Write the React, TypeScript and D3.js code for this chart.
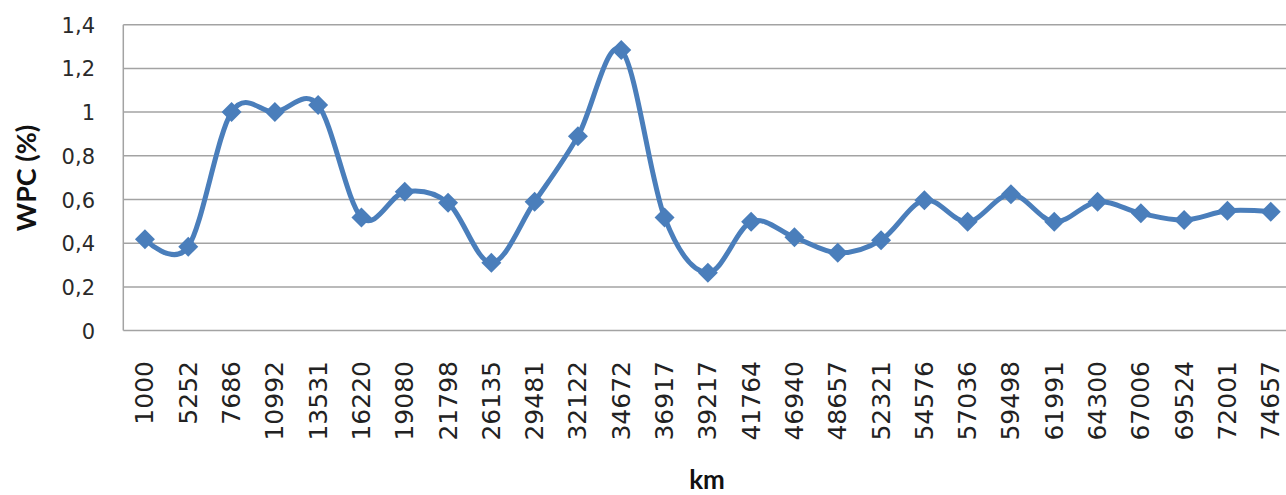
import React from "react";
import * as d3 from "d3";

const categories: string[] = [
  "1000", "5252", "7686", "10992", "13531", "16220", "19080", "21798", "26135",
  "29481", "32122", "34672", "36917", "39217", "41764", "46940", "48657", "52321",
  "54576", "57036", "59498", "61991", "64300", "67006", "69524", "72001", "74657",
];

const wpcValues: number[] = [
  0.418, 0.384, 1.0, 1.0, 1.032, 0.518, 0.635, 0.585, 0.31,
  0.59, 0.89, 1.284, 0.518, 0.265, 0.498, 0.427, 0.356, 0.414,
  0.597, 0.498, 0.624, 0.498, 0.59, 0.537, 0.506, 0.548, 0.544,
];

const yTicks: number[] = [0, 0.2, 0.4, 0.6, 0.8, 1, 1.2, 1.4];

const yAxisTitle = "WPC (%)";
const xAxisTitle = "km";

const W = 1286;
const H = 495;
const plotLeft = 123.3;
const step = 43.3;
const plotTop = 24.7;
const plotBottom = 330.6;

export default function App() {
  const x = d3
    .scaleBand<string>()
    .domain(categories)
    .range([plotLeft, plotLeft + step * categories.length])
    .paddingInner(0)
    .paddingOuter(0);
  const y = d3.scaleLinear().domain([0, 1.4]).range([plotBottom, plotTop]);
  const cx = (c: string) => (x(c) as number) + x.bandwidth() / 2;
  const plotRight = plotLeft + step * categories.length;

  const pts: [number, number][] = categories.map((c, i) => [cx(c), y(wpcValues[i])]);
  const line = d3.line().curve(d3.curveCardinal.tension(0))(pts) || "";

  const fmt = (v: number) => (v === 0 ? "0" : String(+v.toFixed(1)).replace(".", ","));
  const r = 10;
  const diamond = `M0,${-r}L${r},0L0,${r}L${-r},0Z`;
  const color = "#4A7EBB";

  return (
    <svg
      width={W}
      height={H}
      style={{ position: "absolute", left: 0, top: 0, background: "#fff", overflow: "hidden" }}
    >
      <rect x={0} y={0} width={W} height={H} fill="#fff" />
      {yTicks.map((t) => (
        <line
          key={"g" + t}
          x1={plotLeft}
          x2={plotRight}
          y1={y(t)}
          y2={y(t)}
          stroke="#A3A3A3"
          strokeWidth={1.5}
        />
      ))}
      <line x1={plotLeft} x2={plotLeft} y1={plotTop} y2={plotBottom} stroke="#A3A3A3" strokeWidth={1.5} />
      {yTicks.map((t) => (
        <text
          key={"t" + t}
          x={95}
          y={y(t) + 1}
          textAnchor="end"
          dominantBaseline="central"
          fontFamily="DejaVu Sans"
          fontSize={21}
          fill="#2a2a2a"
        >
          {fmt(t)}
        </text>
      ))}
      {categories.map((c) => (
        <text
          key={"x" + c}
          transform={`translate(${cx(c)},361) rotate(-90)`}
          textAnchor="end"
          dominantBaseline="central"
          fontFamily="DejaVu Sans"
          fontSize={25}
          fill="#222"
        >
          {c}
        </text>
      ))}
      <path d={line} fill="none" stroke={color} strokeWidth={5} strokeLinejoin="round" />
      {pts.map((p, i) => (
        <path key={"m" + i} d={diamond} transform={`translate(${p[0]},${p[1]})`} fill={color} />
      ))}
      <text
        transform={`translate(25,178) rotate(-90)`}
        textAnchor="middle"
        dominantBaseline="central"
        fontFamily="Lato"
        fontWeight="bold"
        fontSize={27}
        fill="#111"
      >
        {yAxisTitle}
      </text>
      <text
        x={707}
        y={489}
        textAnchor="middle"
        fontFamily="Lato"
        fontWeight="bold"
        fontSize={26}
        fill="#111"
      >
        {xAxisTitle}
      </text>
    </svg>
  );
}
